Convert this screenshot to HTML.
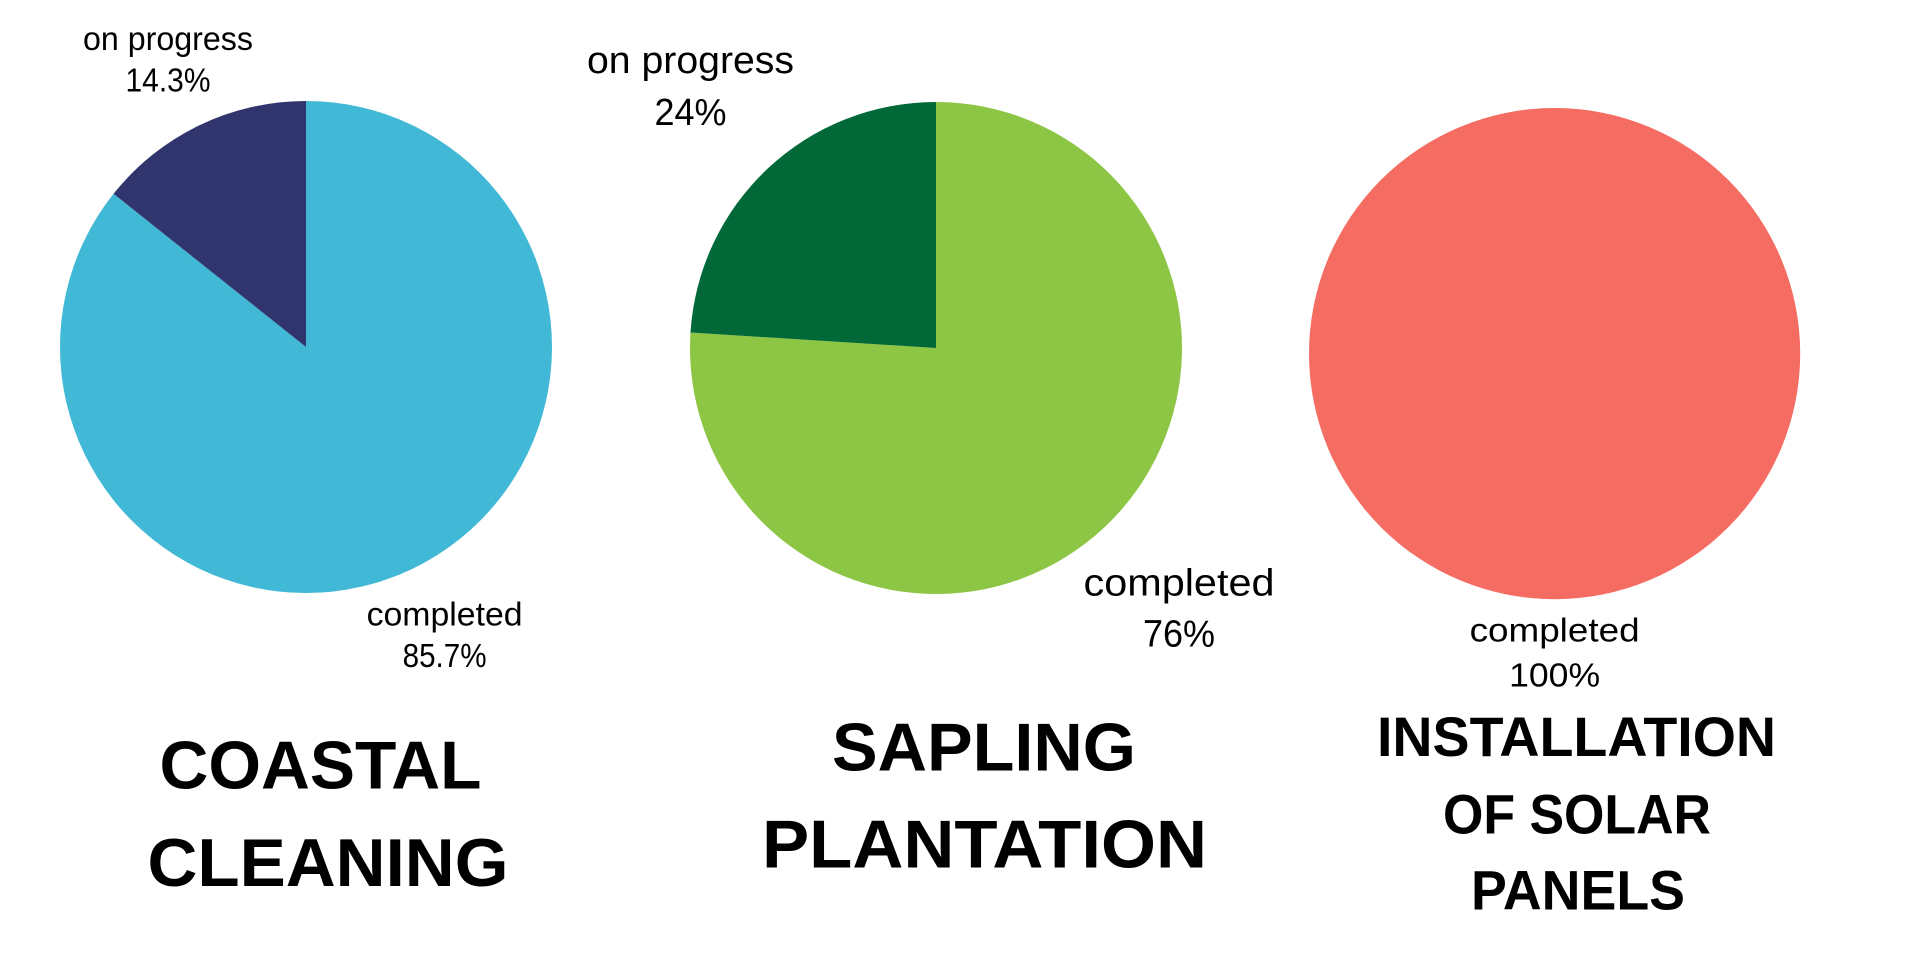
<!DOCTYPE html>
<html lang="en">
<head>
<meta charset="utf-8">
<title>Project completion pie charts</title>
<style>
  html, body { margin: 0; padding: 0; background: #ffffff; }
  body { width: 1920px; height: 963px; overflow: hidden; }
  svg { display: block; }
  text { font-family: "Liberation Sans", sans-serif; fill: #000000; text-anchor: middle; }
  .slice-label { font-weight: 400; }
  .chart-title { font-weight: 700; }
</style>
</head>
<body>
<svg id="canvas" width="1920" height="963" viewBox="0 0 1920 963" xmlns="http://www.w3.org/2000/svg"></svg>
<script>
// Chart data
const categories = ["COASTAL CLEANING", "SAPLING PLANTATION", "INSTALLATION OF SOLAR PANELS"];
const completedValues = [85.7, 76, 100];
const onProgressValues = [14.3, 24, 0];
const completedPrinted = ["85.7%", "76%", "100%"];
const onProgressPrinted = ["14.3%", "24%", ""];
const completedLabel = "completed";
const onProgressLabel = "on progress";

// Layout (not data)
const layout = [
  { key: "coastal", cx: 306, cy: 347, r: 246, main: "#41B8D5", minor: "#31356E",
    progress: { x: 168, size: 33, y1: 50, y2: 91.5, w1: 170, w2: 85 },
    done: { x: 444.6, size: 33, y1: 625.5, y2: 667, w1: 156, w2: 84 },
    titles: [["COASTAL", 320.5, 322, 788.5, 68], ["CLEANING", 328, 361, 886, 68]] },
  { key: "sapling", cx: 936, cy: 348, r: 246, main: "#8DC545", minor: "#016938",
    progress: { x: 690.5, size: 38, y1: 73, y2: 125, w1: 207, w2: 72 },
    done: { x: 1179, size: 38, y1: 595.5, y2: 646.5, w1: 191, w2: 72 },
    titles: [["SAPLING", 984, 304, 770.5, 68], ["PLANTATION", 984.5, 445, 867.5, 68]] },
  { key: "solar", cx: 1554.6, cy: 353.6, r: 245.6, main: "#F46C62", minor: "#F46C62",
    progress: null,
    done: { x: 1554.6, size: 33, y1: 641.5, y2: 686.5, w1: 170, w2: 91 },
    titles: [["INSTALLATION", 1576.5, 399, 756, 56], ["OF SOLAR", 1577, 268, 833.5, 56], ["PANELS", 1578, 214, 909.5, 56]] }
];

const NS = "http://www.w3.org/2000/svg";
const svg = document.getElementById("canvas");

// Value-to-angle axis: angles in degrees, clockwise from 12 o'clock
function angleOf(value, total) { return value / total * 360; }
function pointAt(cx, cy, r, deg) {
  const t = deg * Math.PI / 180;
  return [cx + r * Math.sin(t), cy - r * Math.cos(t)];
}
function slicePath(cx, cy, r, startDeg, endDeg) {
  const sweep = endDeg - startDeg;
  if (sweep >= 359.999) {
    const a = pointAt(cx, cy, r, startDeg);
    const b = pointAt(cx, cy, r, startDeg + 180);
    return "M" + a[0] + " " + a[1] + "A" + r + " " + r + " 0 1 1 " + b[0] + " " + b[1] +
           "A" + r + " " + r + " 0 1 1 " + a[0] + " " + a[1] + "Z";
  }
  const s = pointAt(cx, cy, r, startDeg);
  const e = pointAt(cx, cy, r, endDeg);
  return "M" + cx + " " + cy + "L" + s[0] + " " + s[1] +
         "A" + r + " " + r + " 0 " + (sweep > 180 ? 1 : 0) + " 1 " + e[0] + " " + e[1] + "Z";
}
function addText(parent, str, x, y, size, width, cls) {
  const t = document.createElementNS(NS, "text");
  t.setAttribute("x", x);
  t.setAttribute("y", y);
  t.setAttribute("font-size", size);
  t.setAttribute("textLength", width);
  t.setAttribute("lengthAdjust", "spacingAndGlyphs");
  t.setAttribute("class", cls);
  t.textContent = str;
  parent.appendChild(t);
  return t;
}

categories.forEach(function (category, i) {
  const L = layout[i];
  const total = completedValues[i] + onProgressValues[i];
  const minorDeg = angleOf(onProgressValues[i], total);

  const group = document.createElementNS(NS, "g");
  
  
  svg.appendChild(group);

  const done = document.createElementNS(NS, "path");
  done.setAttribute("d", slicePath(L.cx, L.cy, L.r, 0, 360 - minorDeg));
  done.setAttribute("fill", L.main);
  
  
  group.appendChild(done);

  if (onProgressValues[i] > 0) {
    const minor = document.createElementNS(NS, "path");
    minor.setAttribute("d", slicePath(L.cx, L.cy, L.r, 360 - minorDeg, 360));
    minor.setAttribute("fill", L.minor);
    
    
    group.appendChild(minor);
  }

  if (L.progress) {
    const p = L.progress;
    const a = addText(group, onProgressLabel, p.x, p.y1, p.size, p.w1, "slice-label");
    
    
    const b = addText(group, onProgressPrinted[i], p.x, p.y2, p.size, p.w2, "slice-label");
    
    
  }

  const d = L.done;
  const c = addText(group, completedLabel, d.x, d.y1, d.size, d.w1, "slice-label");
  
  
  const v = addText(group, completedPrinted[i], d.x, d.y2, d.size, d.w2, "slice-label");
  
  

  L.titles.forEach(function (line) {
    const title = addText(group, line[0], line[1], line[3], line[4], line[2], "chart-title");
    
    
  });
});
</script>
</body>
</html>
